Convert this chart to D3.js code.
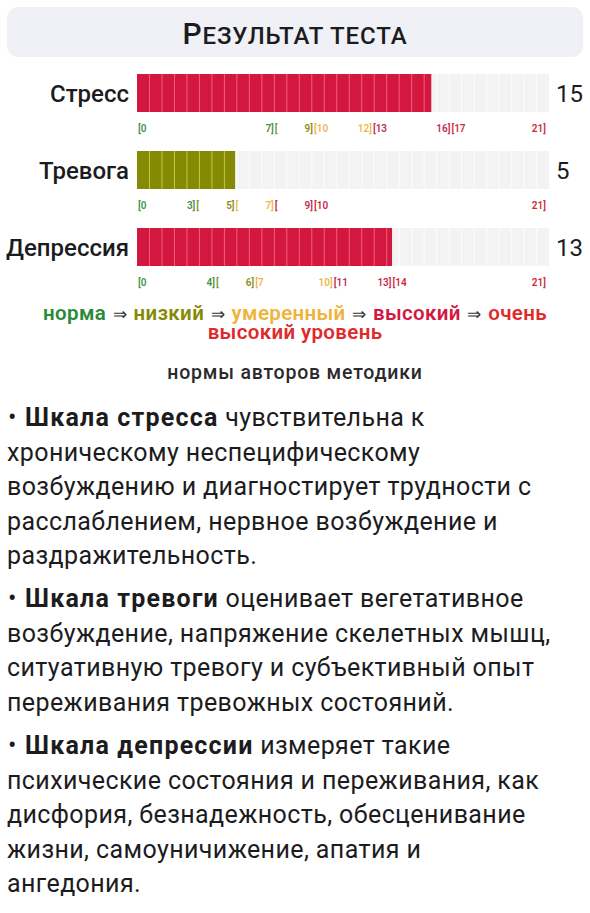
<!DOCTYPE html>
<html><head><meta charset="utf-8">
<script src="https://cdn.jsdelivr.net/npm/d3@7"></script>
<style>html,body{margin:0;padding:0;background:#fff;}svg{display:block;font-family:Roboto,"Noto Sans",sans-serif;}</style>
</head><body><svg id="c" width="590" height="913"></svg>
<script>
// ---- data ----
const scales = ["Стресс", "Тревога", "Депрессия"];
const values = [15, 5, 13];
const maxScore = 21;
// upper bounds of norm / low / moderate / high (very high goes to 21)
const thresholds = [[7, 9, 12, 16], [3, 5, 7, 9], [4, 6, 10, 13]];
const levels = ["норма", "низкий", "умеренный", "высокий", "очень высокий уровень"];
const levelColors = ["#2a8a37", "#858a05", "#eeb43c", "#d3173f", "#e02a2c"];
const tickColors = ["#3f9446", "#8a8d1c", "#f0b84a", "#c42a52", "#cc2a3a"];
const stripeColors = ["#7fc27f", "#c7c83c", "#f8d88a", "#f2607a", "#f46a6a"];
const title = "Результат теста";
const subtitle = "нормы авторов методики";
const paragraphs = [
  {bold: "Шкала стресса", lines: [" чувствительна к", "хроническому неспецифическому", "возбуждению и диагностирует трудности с", "расслаблением, нервное возбуждение и", "раздражительность."]},
  {bold: "Шкала тревоги", lines: [" оценивает вегетативное", "возбуждение, напряжение скелетных мышц,", "ситуативную тревогу и субъективный опыт", "переживания тревожных состояний."]},
  {bold: "Шкала депрессии", lines: [" измеряет такие", "психические состояния и переживания, как", "дисфория, безнадежность, обесценивание", "жизни, самоуничижение, апатия и", "ангедония."]}
];
const segmentCount = 33;

// ---- drawing ----
const svg = d3.select("#c");
const ink = "#1c1c1e";

// title box
svg.append("rect").attr("x", 7).attr("y", 7).attr("width", 576).attr("height", 50)
  .attr("rx", 11).attr("fill", "#f0f0f7");
const tt = svg.append("text").attr("x", 295).attr("y", 44).attr("text-anchor", "middle")
  .attr("fill", ink).attr("font-weight", 500).attr("letter-spacing", 0.9);
tt.append("tspan").attr("font-size", 30).text(title[0].toUpperCase());
tt.append("tspan").attr("font-size", 24).text(title.slice(1).toUpperCase());

const x = d3.scaleLinear().domain([0, maxScore]).range([137, 549]);
const seg = d3.scaleLinear().domain([0, segmentCount]).range(x.range());
const y = d3.scaleBand().domain(scales).range([74, 266]).paddingInner(39 / 77).paddingOuter(0);

function levelOf(v, th) { let i = 0; while (i < th.length && v > th[i]) i++; return i; }

scales.forEach((s, k) => {
  const g = svg.append("g");
  const y0 = y(s), h = y.bandwidth();
  const v = values[k], th = thresholds[k];
  const lv = levelOf(v, th);
  // track
  g.append("rect").attr("x", x(0)).attr("y", y0).attr("width", x(maxScore) - x(0)).attr("height", h).attr("fill", "#f3f3f4");
  g.selectAll("line.t").data(d3.range(1, segmentCount)).join("line")
    .attr("x1", d => seg(d)).attr("x2", d => seg(d)).attr("y1", y0).attr("y2", y0 + h)
    .attr("stroke", "#fbfbfc").attr("stroke-width", 1.2);
  // bar
  g.append("rect").attr("x", x(0)).attr("y", y0).attr("width", x(v) - x(0)).attr("height", h).attr("fill", levelColors[lv]);
  g.selectAll("line.b").data(d3.range(1, segmentCount).filter(d => seg(d) < x(v) - 2)).join("line")
    .attr("x1", d => seg(d)).attr("x2", d => seg(d)).attr("y1", y0).attr("y2", y0 + h)
    .attr("stroke", stripeColors[lv]).attr("stroke-width", 1);
  // name
  g.append("text").attr("x", 129).attr("y", y0 + h / 2 + 8.5).attr("text-anchor", "end")
    .attr("font-size", 24).attr("font-weight", 500).attr("fill", ink).text(s);
  // value
  g.append("text").attr("x", 556).attr("y", y0 + h / 2 + 9)
    .attr("font-size", 24).attr("font-weight", 400).attr("fill", ink).text(v);
  // range tick labels
  const ty = y0 + h + 19.5;
  const tl = g.append("g").attr("font-size", 10).attr("font-weight", 600);
  tl.append("text").attr("x", x(0) + 1).attr("y", ty).attr("fill", tickColors[0]).text("[0");
  const bounds = [0, ...th, maxScore];
  th.forEach((b, i) => {
    tl.append("text").attr("x", x(b) - 0.5).attr("y", ty).attr("text-anchor", "end").attr("fill", tickColors[i]).text(b + "]");
    const next = bounds[i + 2];
    const lbl = (next - b) > 2 ? "[" + (b + 1) : "[";
    tl.append("text").attr("x", x(b) + 0.5).attr("y", ty).attr("fill", tickColors[i + 1]).text(lbl);
  });
  tl.append("text").attr("x", x(maxScore) - 3).attr("y", ty).attr("text-anchor", "end").attr("fill", tickColors[4]).text(maxScore + "]");
});

// legend: separate pieces laid out by measured width
const lastWords = levels[4].split(" ");
const pieces = [];
levels.slice(0, 4).forEach((l, i) => {
  pieces.push({t: l, c: levelColors[i], w: 600});
  pieces.push({t: "⇒", c: "#333", w: 400, arrow: true});
});
pieces.push({t: lastWords[0], c: levelColors[4], w: 600});
const lgG = svg.append("g").attr("font-size", 20.5).attr("letter-spacing", 0.35);
const gap = 6.5;
const nodes = pieces.map(p => lgG.append("text").attr("y", 320).attr("fill", p.c)
  .attr("font-weight", p.w).attr("font-size", p.arrow ? 17 : null).text(p.t));
const widths = nodes.map(n => n.node().getComputedTextLength());
const total = d3.sum(widths) + gap * (pieces.length - 1);
let cx = 295 - total / 2;
nodes.forEach((n, i) => { n.attr("x", cx); cx += widths[i] + gap; });
svg.append("text").attr("x", 295).attr("y", 339).attr("text-anchor", "middle")
  .attr("font-size", 20.5).attr("font-weight", 600).attr("letter-spacing", 0.35)
  .attr("fill", levelColors[4]).text(lastWords.slice(1).join(" "));

svg.append("text").attr("x", 295).attr("y", 379).attr("text-anchor", "middle")
  .attr("font-size", 19.5).attr("font-weight", 500).attr("letter-spacing", 0.8)
  .attr("fill", "#2a2a2c").text(subtitle);

// paragraphs
const paraStarts = [426, 607, 754];
const lh = 34.5;
paragraphs.forEach((p, i) => {
  const t = svg.append("text").attr("font-size", 25).attr("fill", ink).attr("font-weight", 400)
    .attr("letter-spacing", 0.4);
  p.lines.forEach((line, j) => {
    const yy = paraStarts[i] + j * lh;
    if (j === 0) {
      t.append("tspan").attr("x", 8).attr("y", yy).text("•");
      t.append("tspan").attr("x", 25).attr("font-weight", 700).attr("letter-spacing", 1.2).text(p.bold);
      t.append("tspan").text(line);
    } else {
      t.append("tspan").attr("x", 7).attr("y", yy).text(line);
    }
  });
});
</script></body></html>
